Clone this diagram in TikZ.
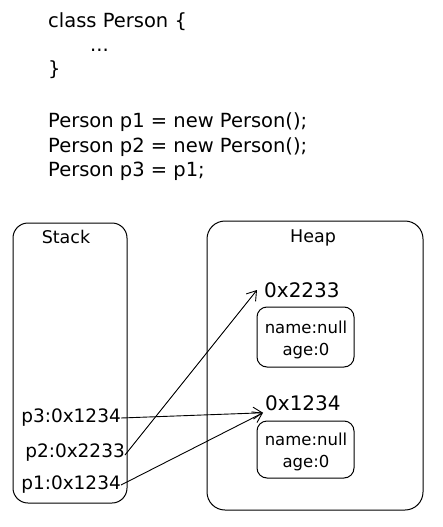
\documentclass[tikz,border=0pt]{standalone}
\usepackage{fontspec}
\setmainfont{DejaVu Sans}
\usetikzlibrary{arrows.meta}
\begin{document}
\begin{tikzpicture}[x=1pt,y=-1pt,
  code/.style={anchor=west,inner sep=0pt,font=\fontsize{19.5}{22}\selectfont},
  region/.style={draw,line width=1pt,rounded corners=18pt},
  obj/.style={draw,line width=1pt,rounded corners=10pt},
  lbl/.style={inner sep=0pt,font=\fontsize{17.5}{20}\selectfont},
  addr/.style={inner sep=0pt,anchor=west,font=\fontsize{20}{22}\selectfont},
  var/.style={inner sep=0pt,anchor=east,font=\fontsize{18.5}{21}\selectfont},
  field/.style={inner sep=0pt,font=\fontsize{16.5}{18}\selectfont},
  ref/.style={line width=0.9pt,-{Straight Barb[length=9pt,width=12pt]}}]
\useasboundingbox (0,0) rectangle (442,527);
% code
\node[code] (c1) at (48,22) {class Person \{};
\node[code] (c2) at (90,50) {...};
\node[code] (c3) at (48,70) {\}};
\node[code] (c4) at (48,122) {Person p1 = new Person();};
\node[code] (c5) at (48,147) {Person p2 = new Person();};
\node[code] (c6) at (48,171) {Person p3 = p1;};
% stack
\draw[region,rounded corners=15pt] (13,223) rectangle (127,503);
\node[lbl] (st) at (66,237) {Stack};
\node[var] (p3) at (121,418) {p3:0x1234};
\node[var] (p2) at (125,453) {p2:0x2233};
\node[var] (p1) at (121,485) {p1:0x1234};
% heap
\draw[region] (207,221) rectangle (423,510);
\node[lbl] (hp) at (313,238) {Heap};
\node[addr] (a2) at (264,290) {0x2233};
\draw[obj] (257,307) rectangle (354,367);
\node[field] (f1) at (306,327) {name:null};
\node[field] (f2) at (306,351) {age:0};
\node[addr] (a1) at (265,403) {0x1234};
\draw[obj] (257,421) rectangle (354,478);
\node[field] (f3) at (306,439) {name:null};
\node[field] (f4) at (306,463) {age:0};
% references
\draw[ref] (p3.east) -- ([xshift=-2pt,yshift=-2pt]a1.south west);
\draw[ref] (p1.east) -- ([xshift=-2pt,yshift=-2pt]a1.south west);
\draw[ref] ([yshift=-2pt]p2.east) -- ([xshift=-7pt]a2.west);
\end{tikzpicture}
\end{document}
